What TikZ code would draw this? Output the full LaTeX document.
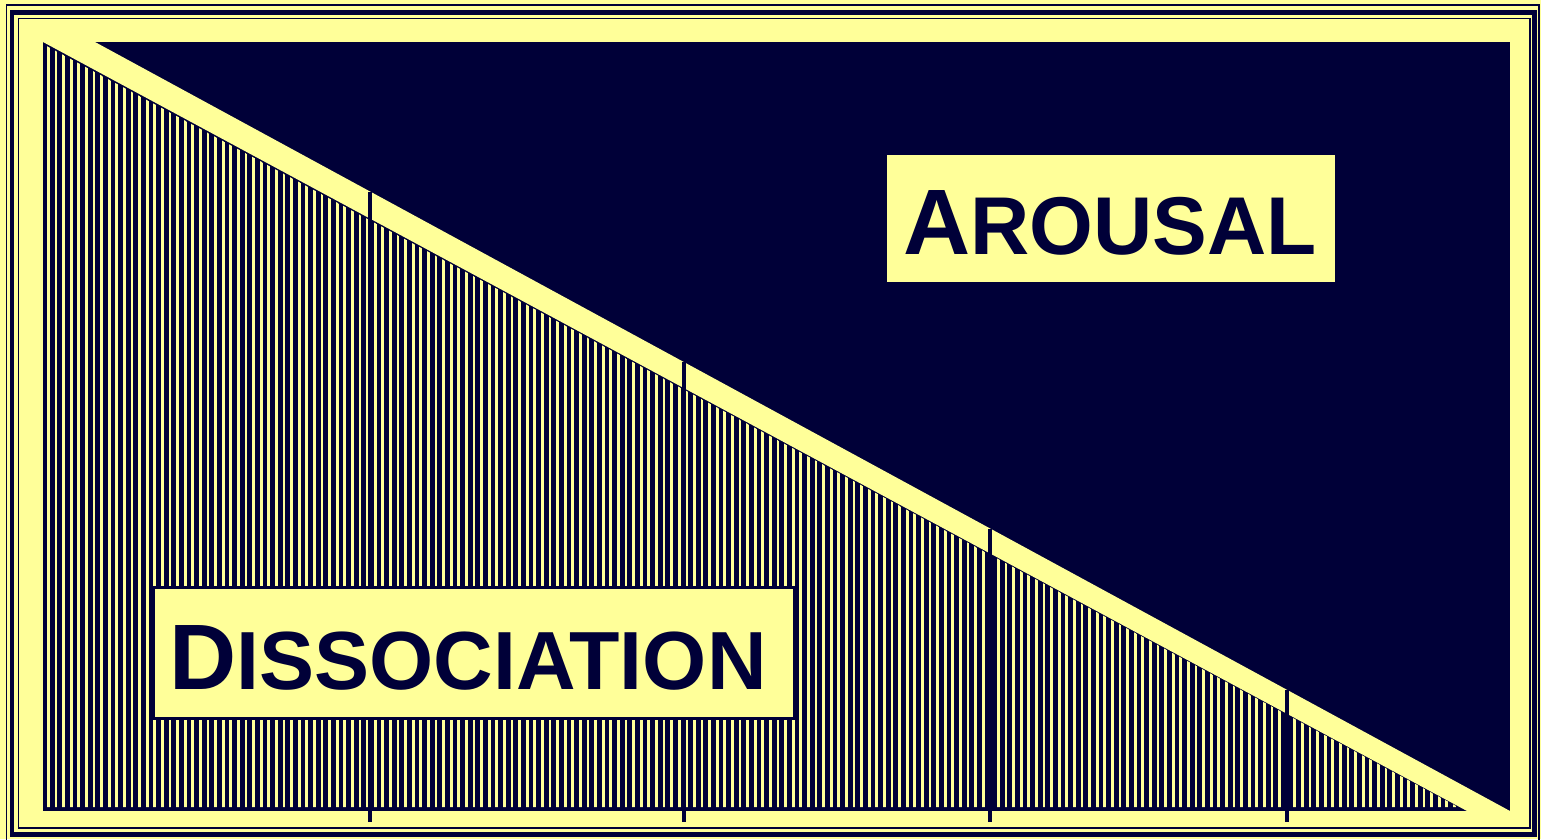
\documentclass[tikz,border=0pt]{standalone}
\usepackage{fontspec}
\setmainfont{Liberation Sans}
\definecolor{pale}{HTML}{FFFF99}
\definecolor{navy}{HTML}{000038}
\begin{document}
\begin{tikzpicture}[x=1pt,y=-1pt,
  frameline/.style={draw=navy},
  labelbox/.style={fill=pale},
  labelrim/.style={draw=navy,line width=3pt},
  labeltext/.style={text=navy,font=\bfseries,inner sep=0pt,anchor=base west},
  tickline/.style={draw=navy,line width=3.5pt}]
\useasboundingbox (0,0) rectangle (1541,839);
\fill[pale] (0,0) rectangle (1541,839);
% frame
\draw[frameline,line width=1.5pt] (6.5,5) rectangle (1539,845);
\draw[frameline,line width=4.5pt] (12,12.5) rectangle (1534.5,834.5);
\draw[frameline,line width=1.5pt] (18.5,18.5) rectangle (1530,828);
% panel
\fill[navy] (43,42) rectangle (1510,811);
\fill[pale] (43,42) -- (95,42) -- (1510,811) -- (1467,811) -- cycle;
\begin{scope}
  \clip (47,46.2) -- (1458,807) -- (47,807) -- cycle;
  \foreach \i in {0,...,190} {
    \fill[pale] ({47+7.6*\i},40) rectangle ({49.7+7.6*\i},812);
  }
\end{scope}
% ticks
\foreach \tx/\ty in {370/191.6, 684/362.3, 990/528.7, 1287/690.3} {
  \draw[tickline] (\tx,\ty) -- (\tx,822);
}
% labels
\fill[labelbox] (887,155) rectangle (1335,282);
\draw[labelrim] (885.5,153.5) rectangle (1336.5,283.5);
\node[labeltext] (arousal) at (903,254) {{\fontsize{93}{93}\selectfont A}{\fontsize{82}{82}\selectfont ROUSAL}};
\fill[labelbox] (155,589) rectangle (793,717);
\draw[labelrim] (153.5,587.5) rectangle (794.5,718.5);
\node[labeltext] (dissociation) at (169,689) {{\fontsize{93}{93}\selectfont D}{\fontsize{82.5}{82.5}\selectfont ISSOCIATION}};
\end{tikzpicture}
\end{document}
